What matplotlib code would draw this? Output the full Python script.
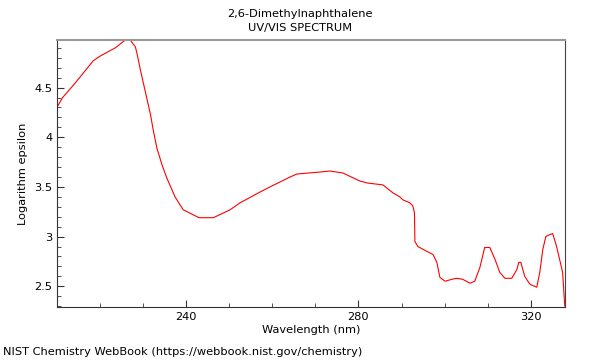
import matplotlib
matplotlib.use("Agg")
import matplotlib.pyplot as plt
from matplotlib.ticker import MultipleLocator

# values
wavelength = [210.1, 211.3, 214.3, 218.4, 220.1, 223.5, 225.9, 227.0, 228.2, 228.6,
              229.3, 230.5, 231.7, 232.4, 233.2, 234.4, 235.5, 237.4, 239.3, 241.6,
              243.0, 246.3, 250.2, 252.5, 257.2, 259.0, 264.1, 265.7, 271.1, 273.4,
              276.4, 280.3, 282.0, 285.7, 288.0, 289.6, 290.3, 291.9, 292.6, 293.0,
              293.1, 293.8, 295.9, 297.3, 298.2, 298.9, 300.1, 301.7, 302.8, 304.2,
              305.9, 307.0, 308.2, 309.3, 310.5, 311.7, 312.8, 314.0, 315.6, 316.8,
              317.2, 317.7, 318.6, 319.8, 321.4, 322.1, 322.8, 323.5, 324.4, 325.1,
              326.0, 326.7, 327.4, 327.9]
log_eps = [4.31, 4.40, 4.55, 4.77, 4.82, 4.90, 4.98, 4.98, 4.91, 4.84,
           4.69, 4.46, 4.23, 4.06, 3.89, 3.72, 3.59, 3.40, 3.27, 3.22,
           3.19, 3.19, 3.27, 3.34, 3.45, 3.49, 3.60, 3.63, 3.65, 3.66,
           3.64, 3.56, 3.54, 3.52, 3.44, 3.40, 3.37, 3.34, 3.31, 3.24,
           2.95, 2.90, 2.85, 2.82, 2.74, 2.59, 2.55, 2.57, 2.58, 2.57,
           2.53, 2.55, 2.69, 2.89, 2.89, 2.77, 2.64, 2.58, 2.58, 2.67,
           2.74, 2.74, 2.60, 2.52, 2.49, 2.64, 2.87, 3.00, 3.02, 3.03,
           2.90, 2.77, 2.64, 2.30]

title = "2,6-Dimethylnaphthalene\nUV/VIS SPECTRUM"
footer = "NIST Chemistry WebBook (https://webbook.nist.gov/chemistry)"

plt.rcParams['font.family'] = ['DejaVu Sans']
fig = plt.figure(figsize=(6, 3.6), dpi=100)
ax = fig.add_axes([0.095, 0.147, 0.847, 0.742])

ax.plot(wavelength, log_eps, color='red', lw=0.8)
ax.set_xlim(210, 328)
ax.set_ylim(2.29, 4.98)

ax.xaxis.set_major_locator(MultipleLocator(40))
ax.xaxis.set_minor_locator(MultipleLocator(10))
ax.yaxis.set_major_locator(MultipleLocator(0.5))
ax.yaxis.set_minor_locator(MultipleLocator(0.1))
ax.yaxis.set_major_formatter(plt.FuncFormatter(lambda v, p: f"{v:g}"))
ax.tick_params(which='both', direction='in', labelsize=8.2, color='#333333')
ax.tick_params(which='major', length=5)
ax.tick_params(which='minor', length=3)

ax.spines['top'].set_color('#999999')
ax.spines['top'].set_linewidth(1.5)
ax.spines['right'].set_color('#444444')
ax.spines['left'].set_color('#333333')
ax.spines['bottom'].set_color('#333333')

ax.set_xlabel("Wavelength (nm)", fontsize=8.2, labelpad=2)
ax.set_ylabel("Logarithm epsilon", fontsize=8.2)
fig.text(0.5, 0.942, title, ha='center', va='center', fontsize=8.2, linespacing=1.55)
fig.text(0.005, 0.022, footer, ha='left', va='center', fontsize=8.2)

fig.savefig("out.png", dpi=100)
